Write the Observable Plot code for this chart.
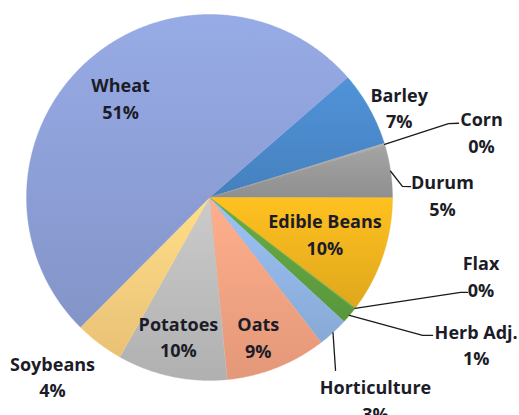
<!DOCTYPE html>
<html><head><meta charset="utf-8">
<script src="https://cdn.jsdelivr.net/npm/d3@7"></script>
<script src="https://cdn.jsdelivr.net/npm/@observablehq/plot@0.6"></script>
<style>body{margin:0;background:#fff}#chart{width:519px;height:415px}</style>
</head><body><div id="chart"></div>
<script>
// ---- data ----
const crops = ["Barley","Corn","Durum","Edible Beans","Flax","Herb Adj.","Horticulture","Oats","Potatoes","Soybeans","Wheat"];
const shares = [6.6, 0.2, 4.6, 10.3, 0.1, 1.45, 2.7, 8.9, 9.7, 4.3, 51.15];
const sliceColors = ["#4a88c9","#a5a5a5","#989898","#eeb21e","#70ad47","#5fa040","#90b4e3","#f2a281","#bcbcbc","#f8ce7e","#8c9ed5"];

// ---- layout (polar: angle in degrees clockwise from 12 o'clock, radius in pie radii) ----
const startAngleDeg = 49;
const labelPolar = [[64.4,1.149],[76.3,1.530],[89.1,1.273],[107.1,0.660],[105.9,1.543],[118.75,1.662],[140.5,1.426],[160.6,0.803],[192.7,0.772],[221.4,1.297],[318.5,0.733]];
const leaderPolar = {
  "Corn": [[72.8,1.367],[73.4,1.42]],
  "Durum": [[86.7,1.056],[86.9,1.100]],
  "Flax": [[110.7,1.467],[110.2,1.502]],
  "Herb Adj.": [[122.9,1.387],[121.7,1.433]],
  "Horticulture": [[143.9,1.169]]
};

const rad = d => d * Math.PI / 180;
const toXY = (aRad, r) => ({x: r * Math.sin(aRad), y: r * Math.cos(aRad)});

const arcs = d3.pie().sort(null).value(d => d)
  .startAngle(rad(startAngleDeg)).endAngle(rad(startAngleDeg) + 2 * Math.PI)(shares);
const total = d3.sum(shares);

const slicePts = [];
arcs.forEach((a, i) => {
  const n = Math.max(2, Math.ceil((a.endAngle - a.startAngle) / rad(0.5)));
  slicePts.push({i, ...toXY(0, 0)});
  for (let k = 0; k <= n; k++) {
    const t = a.startAngle + (a.endAngle - a.startAngle) * k / n;
    slicePts.push({i, ...toXY(t, 1)});
  }
  slicePts.push({i, ...toXY(0, 0)});
});

const labels = crops.map((c, i) => {
  const [ang, r] = labelPolar[i];
  return {i, text: `${c}\n${Math.round(shares[i] / total * 100)}%`, ...toXY(rad(ang), r)};
});

const leaderPts = [];
crops.forEach((c, i) => {
  if (!leaderPolar[c]) return;
  const mid = (arcs[i].startAngle + arcs[i].endAngle) / 2;
  leaderPts.push({i, ...toXY(mid, 1.0)});
  leaderPolar[c].forEach(([ang, r]) => leaderPts.push({i, ...toXY(rad(ang), r)}));
});

const cx = 209, cy = 197, R = 183;
const plot = Plot.plot({
  width: 519, height: 415, margin: 0,
  x: {domain: [-1, 1], range: [cx - R, cx + R], axis: null},
  y: {domain: [-1, 1], range: [cy + R, cy - R], axis: null},
  color: {type: "identity"},
  style: {background: "white", fontFamily: "'Open Sans', sans-serif"},
  marks: [
    Plot.line(slicePts, {x: "x", y: "y", z: "i", fill: d => `url(#sg${d.i})`, stroke: d => sliceColors[d.i], strokeWidth: 0.6, strokeOpacity: 0.6, curve: "linear"}),
    Plot.line(leaderPts, {x: "x", y: "y", z: "i", stroke: "#1a1a1a", strokeWidth: 1.3, curve: "linear"}),
    Plot.text(labels, {x: "x", y: "y", text: "text", fontSize: 18, fontWeight: 700, fill: "#1c1c28", lineHeight: 1.47, textAnchor: "middle"})
  ]
});

// vertical gradients per slice (lighter top, darker bottom)
const ns = "http://www.w3.org/2000/svg";
const defs = document.createElementNS(ns, "defs");
sliceColors.forEach((c, i) => {
  const g = document.createElementNS(ns, "linearGradient");
  g.setAttribute("id", `sg${i}`);
  g.setAttribute("x1", "0"); g.setAttribute("y1", "0"); g.setAttribute("x2", "0"); g.setAttribute("y2", "1");
  [[0, d3.color(c).brighter(0.22)], [1, d3.color(c).darker(0.18)]].forEach(([o, col]) => {
    const s = document.createElementNS(ns, "stop");
    s.setAttribute("offset", o); s.setAttribute("stop-color", col.formatHex());
    g.appendChild(s);
  });
  defs.appendChild(g);
});
plot.insertBefore(defs, plot.firstChild);
document.getElementById("chart").appendChild(plot);
</script></body></html>
